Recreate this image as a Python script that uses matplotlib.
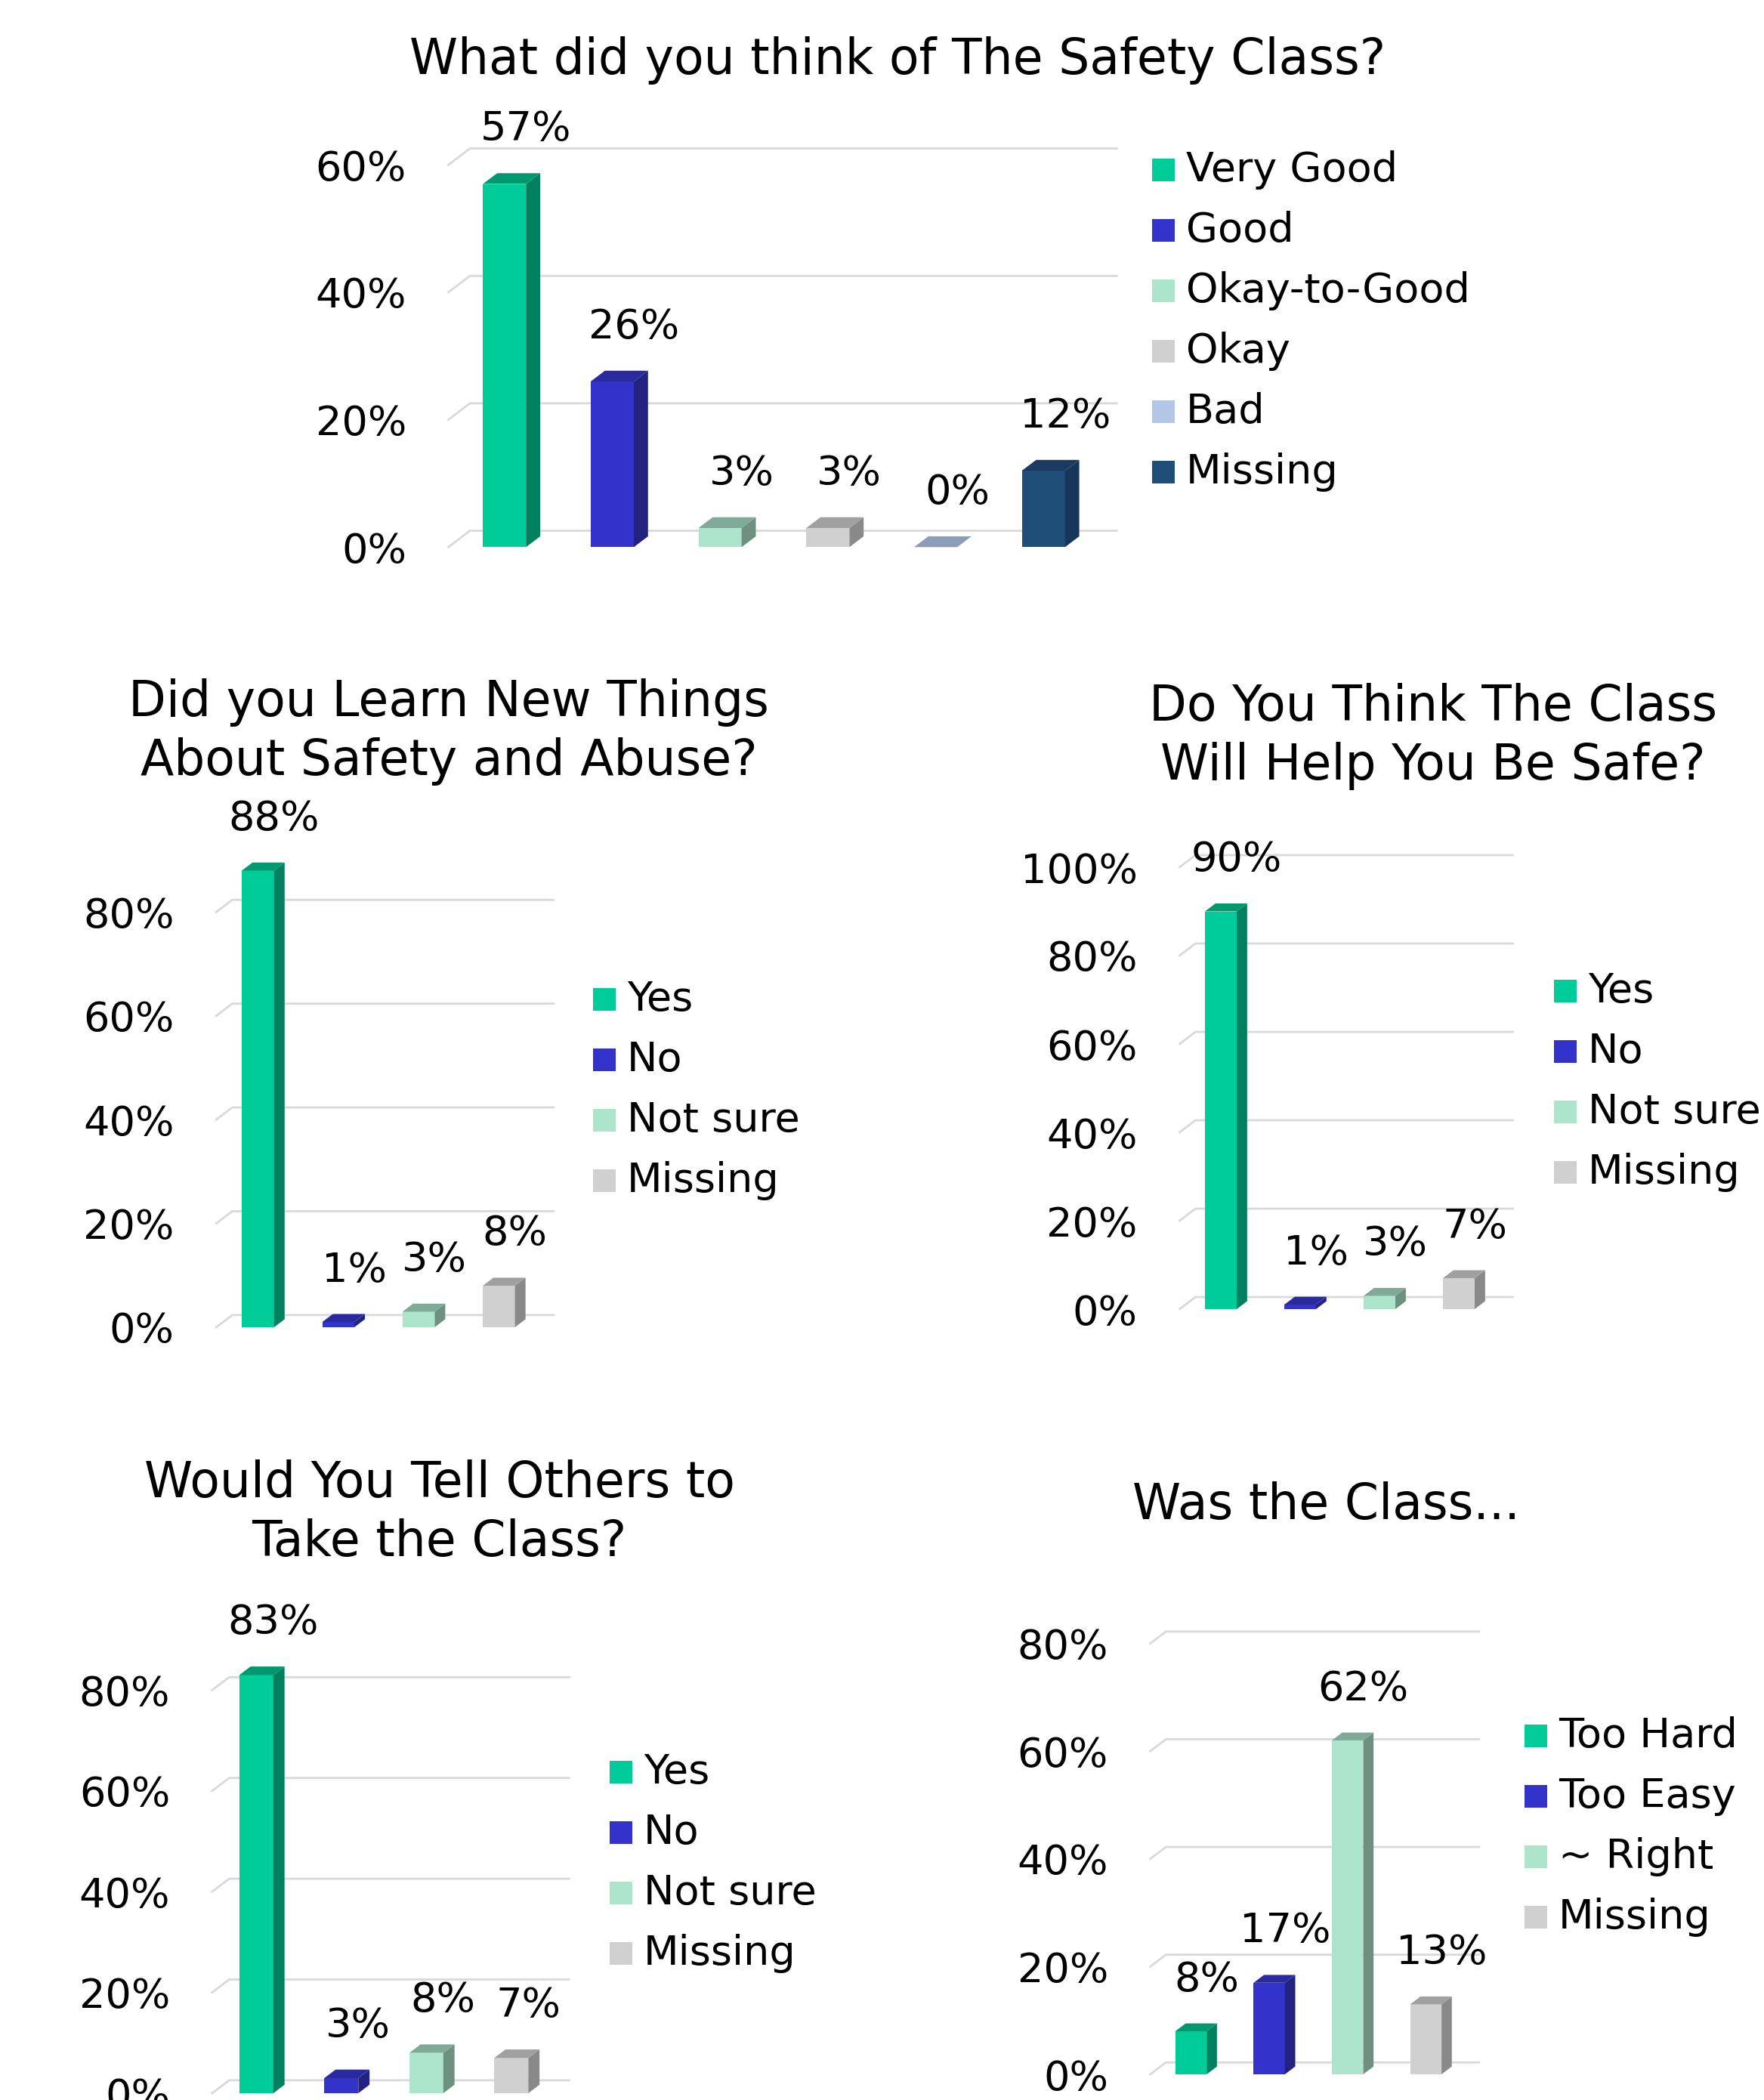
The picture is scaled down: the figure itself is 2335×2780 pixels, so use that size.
import matplotlib
matplotlib.use("Agg")
import matplotlib.pyplot as plt
from matplotlib.patches import Polygon, Rectangle
import numpy as np

W, H = 2335, 2780
plt.rcParams['font.family'] = ['DejaVu Sans']

# ---- data ----
q1_title = "What did you think of The Safety Class?"
q1_labels = ["Very Good", "Good", "Okay-to-Good", "Okay", "Bad", "Missing"]
q1_values = [57, 26, 3, 3, 0, 12]

q2_title = "Did you Learn New Things\nAbout Safety and Abuse?"
q2_labels = ["Yes", "No", "Not sure", "Missing"]
q2_values = [88, 1, 3, 8]

q3_title = "Do You Think The Class\nWill Help You Be Safe?"
q3_labels = ["Yes", "No", "Not sure", "Missing"]
q3_values = [90, 1, 3, 7]

q4_title = "Would You Tell Others to\nTake the Class?"
q4_labels = ["Yes", "No", "Not sure", "Missing"]
q4_values = [83, 3, 8, 7]

q5_title = "Was the Class..."
q5_labels = ["Too Hard", "Too Easy", "~ Right", "Missing"]
q5_values = [8, 17, 62, 13]

# (front, side, top) shades
GREEN = ("#00CC99", "#00805F", "#00996F")
BLUE = ("#3333CC", "#222280", "#2929A0")
MINT = ("#ADE5CC", "#6E9080", "#80AA98")
GRAY = ("#D0D0D0", "#898989", "#A0A0A0")
BAD = ("#B3C6E5", "#7F8DA3", "#8C9DB8")
NAVY = ("#1F4E79", "#17375A", "#1A3B5F")

fig = plt.figure(figsize=(W / 100, H / 100), dpi=100)


def chart(rect, title, title_xy, labels, values, palette, ymax, legend_xy):
    left, y0, width, height = rect
    ax = fig.add_axes([left / W, 1 - y0 / H, width / W, height / H])
    n = len(values)
    ax.set_xlim(-0.52, n - 0.52)
    ax.set_ylim(0, ymax)
    for s in ax.spines.values():
        s.set_visible(False)
    ax.patch.set_visible(False)
    ax.set_xticks([])
    ticks = np.arange(0, ymax + 1, 20)
    ax.set_yticks(ticks)
    ax.set_yticklabels([f"{t}%" for t in ticks], fontsize=39)
    ax.tick_params(axis="y", length=0, pad=40)

    bars = ax.bar(np.arange(n), values, width=0.4, color=[c[0] for c in palette],
                  zorder=3, clip_on=False)

    to_px = ax.transData.transform
    to_data = ax.transData.inverted().transform
    bw = to_px((0.4, 0))[0] - to_px((0, 0))[0]

    # back wall gridlines with perspective stub
    gdx, gdy = 0.5 * bw, 0.38 * bw
    x0, x1 = ax.get_xlim()
    for t in ticks:
        (ax_, ay), (bx, by) = to_px([(x0, t), (x1, t)])
        pts = to_data([(ax_, ay), (ax_ + gdx, ay + gdy), (bx + gdx, by + gdy)])
        ax.plot(pts[:, 0], pts[:, 1], color="#D9D9D9", lw=2, zorder=1, clip_on=False)

    # side + top faces
    sdx, sdy = 0.33 * bw, 0.25 * bw
    for b, v, c in zip(bars, values, palette):
        (l, bot), (r, top) = to_px([(b.get_x(), 0), (b.get_x() + b.get_width(), b.get_height())])
        side = to_data([(r, bot), (r + sdx, bot + sdy), (r + sdx, top + sdy), (r, top)])
        lid = to_data([(l, top), (r, top), (r + sdx, top + sdy), (l + sdx, top + sdy)])
        ax.add_patch(Polygon(side, closed=True, facecolor=c[1], edgecolor="none",
                             zorder=3, clip_on=False))
        ax.add_patch(Polygon(lid, closed=True, facecolor=c[2], edgecolor="none",
                             zorder=3, clip_on=False))
        lx, ly = to_data([((l + r) / 2 + 0.5 * bw, top + sdy + 58)])[0]
        ax.text(lx, ly, f"{v}%", ha="center", va="center", fontsize=39, clip_on=False)

    # title
    tx, ty = title_xy
    fig.text(tx / W, 1 - ty / H, title, ha="center", va="center", fontsize=46.6,
             linespacing=1.29)

    # legend
    lx, ly = legend_xy
    for i, (lab, c) in enumerate(zip(labels, palette)):
        yc = ly + i * 80
        fig.patches.append(Rectangle((lx / W, 1 - (yc + 15) / H), 30 / W, 30 / H,
                                     transform=fig.transFigure, facecolor=c[0],
                                     edgecolor="none"))
        fig.text((lx + 45) / W, 1 - yc / H, lab, ha="left", va="center", fontsize=39)
    return ax


chart((593.5, 724.3, 856.2, 60 * 8.434), q1_title, (1188, 80), q1_labels, q1_values,
      [GREEN, BLUE, MINT, GRAY, BAD, NAVY], 60, (1525, 225))
chart((286.2, 1757, 425.2, 80 * 6.87), q2_title, (594, 969), q2_labels, q2_values,
      [GREEN, BLUE, MINT, GRAY], 80, (785, 1323))
chart((1561.4, 1733, 420, 100 * 5.85), q3_title, (1897, 975), q3_labels, q3_values,
      [GREEN, BLUE, MINT, GRAY], 100, (2057, 1312))
chart((280.8, 2771, 450, 80 * 6.67), q4_title, (581.5, 2003), q4_labels, q4_values,
      [GREEN, BLUE, MINT, GRAY], 80, (807, 2346))
chart((1522.6, 2746, 414.5, 80 * 7.13), q5_title, (1755, 1993), q5_labels, q5_values,
      [GREEN, BLUE, MINT, GRAY], 80, (2018, 2298))

fig.savefig("out.png", dpi=100)
